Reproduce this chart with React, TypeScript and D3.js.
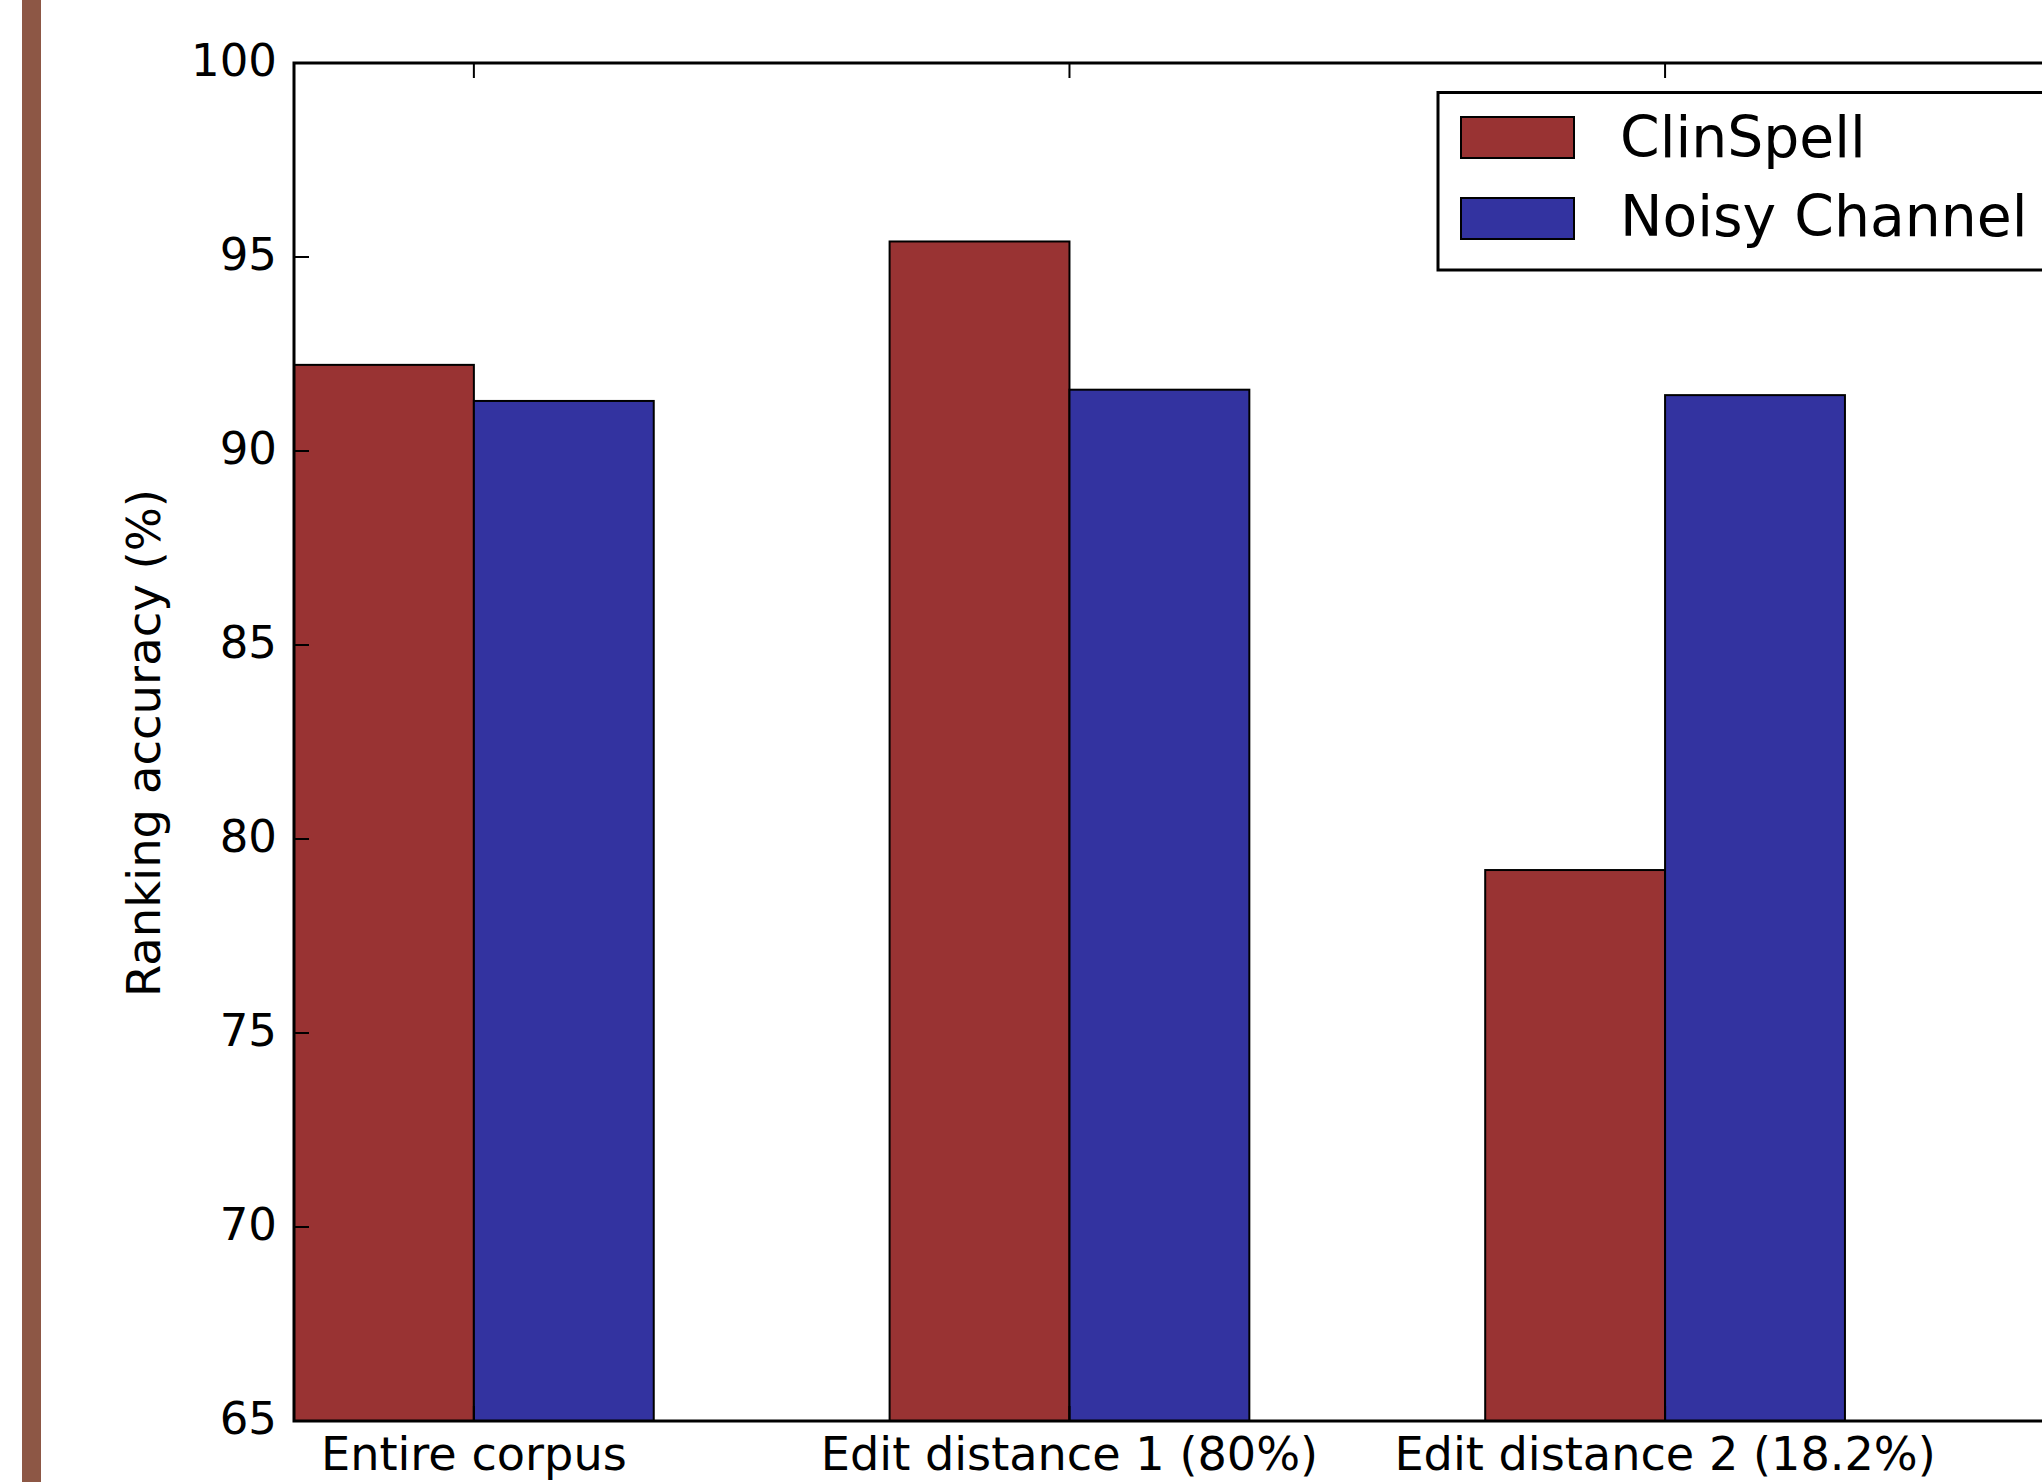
import React from "react";
import * as d3 from "d3";

const categories = ["Entire corpus", "Edit distance 1 (80%)", "Edit distance 2 (18.2%)"];
const clinSpell = [92.22, 95.4, 79.2];
const noisyChannel = [91.29, 91.58, 91.44];
const yTicks = [65, 70, 75, 80, 85, 90, 95, 100];
const seriesNames = ["ClinSpell", "Noisy Channel"];
const seriesColors = ["#993333", "#3333a0"];

const W = 2042;
const H = 1482;
const FONT = "DejaVu Sans, sans-serif";

export default function App() {
  const left = 294;
  const top = 63;
  const bottom = 1421;
  const barW = 0.302;
  const x = d3.scaleLinear().domain([0, 3]).range([left, left + 3 * 595.6]);
  const y = d3.scaleLinear().domain([65, 100]).range([bottom, top]);
  const right = x(3);
  const series = [clinSpell, noisyChannel];

  return (
    <svg
      width={W}
      height={H}
      style={{ position: "absolute", left: 0, top: 0, background: "#fff" }}
      fontFamily={FONT}
    >
      <rect x={0} y={0} width={W} height={H} fill="#fff" />
      <rect x={22} y={0} width={19} height={H} fill="#8d5745" />

      {series.map((vals, s) =>
        vals.map((v, i) => (
          <rect
            key={`${s}-${i}`}
            x={x(i + s * barW)}
            y={y(v)}
            width={x(barW) - x(0)}
            height={y(65) - y(v)}
            fill={seriesColors[s]}
            stroke="#000"
            strokeWidth={2}
          />
        ))
      )}

      {/* y ticks */}
      {yTicks.map((t) => (
        <g key={t}>
          <line x1={left} x2={left + 15} y1={y(t)} y2={y(t)} stroke="#000" strokeWidth={2} />
          <line x1={right} x2={right - 15} y1={y(t)} y2={y(t)} stroke="#000" strokeWidth={2} />
          <text x={277} y={y(t) + 12.5} fontSize={45} textAnchor="end" fill="#000">
            {t}
          </text>
        </g>
      ))}

      {/* x ticks */}
      {categories.map((c, i) => (
        <g key={c}>
          <line x1={x(i + barW)} x2={x(i + barW)} y1={top} y2={top + 15} stroke="#000" strokeWidth={2} />
          <line x1={x(i + barW)} x2={x(i + barW)} y1={bottom} y2={bottom - 15} stroke="#000" strokeWidth={2} />
          <text x={x(i + barW)} y={1470} fontSize={46.2} textAnchor="middle" fill="#000">
            {c}
          </text>
        </g>
      ))}

      {/* frame */}
      <rect
        x={left}
        y={top}
        width={right - left}
        height={bottom - top}
        fill="none"
        stroke="#000"
        strokeWidth={3}
      />

      <text
        transform={`translate(160, 743) rotate(-90)`}
        fontSize={46.5}
        textAnchor="middle"
        fill="#000"
      >
        Ranking accuracy (%)
      </text>

      {/* legend */}
      <rect x={1438} y={92.5} width={700} height={177.5} fill="#fff" stroke="#000" strokeWidth={3} />
      {seriesNames.map((n, s) => (
        <g key={n}>
          <rect
            x={1461}
            y={117 + s * 81}
            width={113}
            height={41}
            fill={seriesColors[s]}
            stroke="#000"
            strokeWidth={2}
          />
          <text x={1620} y={157 + s * 79} fontSize={56.8} fill="#000">
            {n}
          </text>
        </g>
      ))}
    </svg>
  );
}
